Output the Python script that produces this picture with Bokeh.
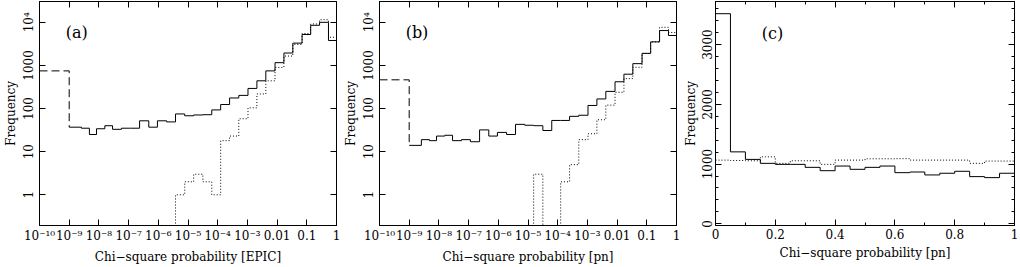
from bokeh.plotting import figure
from bokeh.layouts import row
from bokeh.models import (Range1d, FixedTicker, LogAxis, LinearAxis,
                          CustomJSTickFormatter, AllLabels, Label,
                          CustomLabelingPolicy)
from bokeh.embed import file_html
from bokeh.resources import INLINE

# ---------------- data ----------------
# bin edges (log10 of chi-square probability) used in panels (a) and (b)
log_edges = [-9.0, -8.59, -8.32, -8.08, -7.80, -7.54, -7.24, -6.94, -6.63, -6.32,
             -6.03, -5.72, -5.42, -5.11, -4.81, -4.50, -4.20, -3.90, -3.60, -3.29,
             -2.98, -2.68, -2.38, -2.07, -1.77, -1.47, -1.16, -0.87, -0.57, -0.27, 0.0]
low_edge = -10.0   # lower edge of the "p < 1e-9" bin (dashed)

# (a) EPIC
epic_all = [37, 35, 25, 34, 40, 33, 35, 35, 52, 37, 52, 49, 75, 68, 71, 72, 93, 124,
            176, 202, 293, 440, 748, 1160, 1940, 3290, 5210, 8530, 10000, 3790]
epic_sel = [0, 0, 0, 0, 0, 0, 0, 0, 0, 0, 0, 0, 1, 2, 3, 2, 1, 18, 23, 58, 104, 218,
            440, 900, 1650, 3070, 5500, 9150, 11500, 4500]
epic_low = 748

# (b) pn
pn_all = [14, 19, 18, 23, 24, 18, 19, 17, 32, 23, 28, 25, 43, 41, 40, 31, 53, 53,
          66, 70, 118, 167, 250, 418, 627, 1100, 1905, 3520, 6440, 4950]
pn_sel = [0, 0, 0, 0, 0, 0, 0, 0, 0, 0, 0, 0, 0, 0, 3, 0, 0, 2, 5, 19, 26, 55,
          120, 238, 495, 905, 1900, 3520, 7670, 5800]
pn_low = 464

# (c) pn, linear probability
lin_edges = [0.0, 0.05, 0.1, 0.15, 0.2, 0.25, 0.3, 0.35, 0.4, 0.45, 0.5,
             0.55, 0.6, 0.65, 0.7, 0.75, 0.8, 0.85, 0.9, 0.95, 1.0]
lin_all = [3516, 1204, 1078, 1012, 995, 995, 945, 889, 967, 912, 945, 967,
           856, 867, 818, 846, 879, 790, 773, 846]
lin_sel = [1066, 1060, 1055, 1121, 1012, 1055, 1055, 995, 1066, 1066, 1088, 1088,
           1090, 1066, 1066, 1066, 1066, 1012, 1050, 1050]

# ticks
log_ticks = [1e-10, 1e-9, 1e-8, 1e-7, 1e-6, 1e-5, 1e-4, 1e-3, 1e-2, 1e-1, 1.0]
log_tick_labels = ["10⁻¹⁰", "10⁻⁹", "10⁻⁸", "10⁻⁷", "10⁻⁶", "10⁻⁵", "10⁻⁴", "10⁻³",
                   "0.01", "0.1", "1"]
freq_ticks = [1, 10, 100, 1000, 10000]
freq_labels = ["1", "10", "100", "1000", "10⁴"]
lin_ticks = [0.0, 0.2, 0.4, 0.6, 0.8, 1.0]
lin_labels = ["0", "0.2", "0.4", "0.6", "0.8", "1"]
lin_minor = [0.1, 0.3, 0.5, 0.7, 0.9]
cnt_ticks = [0, 1000, 2000, 3000]
cnt_labels = ["0", "1000", "2000", "3000"]
cnt_minor = [200, 400, 600, 800, 1200, 1400, 1600, 1800, 2200, 2400, 2600, 2800,
             3200, 3400, 3600]

FONT = "DejaVu Serif"
TICK_PX = "12px"
LAB_PX = "12px"
H = 266


def formatter(vals, labs):
    return CustomJSTickFormatter(args=dict(vals=vals, labs=labs), code="""
        for (let i = 0; i < vals.length; i++) {
            const v = vals[i];
            if (Math.abs(v - tick) <= 1e-6 * Math.max(Math.abs(v), 1e-300)) return labs[i];
        }
        return '';
    """)


def hide_policy():
    return CustomLabelingPolicy(code="""
        try {
            for (let i = 0; i < indices.size; i++) { indices.unset(i) }
        } catch (e) {}
        return indices
    """)


def style_axis(ax, show, tick_standoff=3, label_standoff=4):
    ax.major_tick_in = 6
    ax.major_tick_out = 0
    ax.minor_tick_in = 3
    ax.minor_tick_out = 0
    ax.axis_line_color = "black"
    ax.major_tick_line_color = "black"
    ax.minor_tick_line_color = "black"
    ax.major_label_text_font = FONT
    ax.major_label_text_color = "black"
    ax.axis_label_text_font = FONT
    ax.axis_label_text_font_style = "normal"
    ax.axis_label_text_font_size = LAB_PX
    ax.axis_label_text_color = "black"
    if show:
        ax.major_label_policy = AllLabels()
        ax.major_label_text_font_size = TICK_PX
        ax.major_label_standoff = tick_standoff
        ax.axis_label_standoff = label_standoff
    else:
        ax.major_label_policy = hide_policy()
        ax.major_label_text_font_size = "0px"
        ax.major_label_standoff = 0


def step_xy(edges, vals):
    xs, ys = [], []
    for i, v in enumerate(vals):
        xs += [edges[i], edges[i + 1]]
        ys += [v, v]
    return xs, ys


def make_panel(kind, xlabel, tag, all_v, sel_v, low_v, width, left):
    common = dict(width=width, height=H, output_backend="svg", toolbar_location=None,
                  min_border_left=left, min_border_right=4, min_border_top=1,
                  min_border_bottom=36)
    if kind == "log":
        p = figure(x_axis_type="log", y_axis_type="log",
                   x_range=Range1d(1e-10, 1.0), y_range=Range1d(0.194, 30400), **common)
        xt = FixedTicker(ticks=log_ticks, minor_ticks=[])
        yt = FixedTicker(ticks=freq_ticks, minor_ticks=[])
        xf = formatter(log_ticks, log_tick_labels)
        yf = formatter(freq_ticks, freq_labels)
        AxisX, AxisY = LogAxis, LogAxis
        edges = [10 ** e for e in log_edges]
        lo = 10 ** low_edge
        floor = 1e-3
    else:
        p = figure(x_range=Range1d(0.0, 1.0), y_range=Range1d(-28, 3720), **common)
        xt = FixedTicker(ticks=lin_ticks, minor_ticks=lin_minor)
        yt = FixedTicker(ticks=cnt_ticks, minor_ticks=cnt_minor)
        xf = formatter(lin_ticks, lin_labels)
        yf = formatter(cnt_ticks, cnt_labels)
        AxisX, AxisY = LinearAxis, LinearAxis
        edges = lin_edges
        lo = None
        floor = None

    p.xgrid.visible = False
    p.ygrid.visible = False
    p.outline_line_color = "black"
    p.outline_line_alpha = 1.0
    p.background_fill_color = "white"
    p.border_fill_color = "white"

    p.xaxis.ticker = xt
    p.xaxis.formatter = xf
    p.yaxis.ticker = yt
    p.yaxis.formatter = yf
    p.xaxis.axis_label = xlabel
    p.yaxis.axis_label = "Frequency"
    for ax in p.xaxis:
        style_axis(ax, True, tick_standoff=3, label_standoff=4)
    for ax in p.yaxis:
        style_axis(ax, True, tick_standoff=3, label_standoff=2)
        ax.major_label_orientation = "vertical"

    top = AxisX(ticker=xt, formatter=xf)
    style_axis(top, False)
    p.add_layout(top, "above")
    right = AxisY(ticker=yt, formatter=yf)
    style_axis(right, False)
    p.add_layout(right, "right")

    # solid: all sources
    xs, ys = step_xy(edges, all_v)
    if lo is not None:
        # dashed bin below 1e-9, joined down to the first solid bin
        p.line([lo, edges[0], edges[0]], [low_v, low_v, all_v[0]],
               line_color="black", line_width=1, line_dash="8 4")
    p.line(xs, ys, line_color="black", line_width=1)

    # dotted: selected sources (empty bins drop below the frame)
    sel_plot = [v if v > 0 else floor for v in sel_v] if floor else list(sel_v)
    xs2, ys2 = step_xy(edges, sel_plot)
    p.line(xs2, ys2, line_color="black", line_width=1, line_dash="1 2")

    if kind == "log":
        lab = Label(x=10 ** -9.12, y=10 ** 3.77, text=tag)
    else:
        lab = Label(x=0.155, y=3190, text=tag)
    lab.text_font = FONT
    lab.text_font_size = "16px"
    lab.text_baseline = "middle"
    lab.text_align = "left"
    lab.text_color = "black"
    p.add_layout(lab)
    return p


pa = make_panel("log", "Chi−square probability [EPIC]", "(a)", epic_all, epic_sel, epic_low, 340, 34)
pb = make_panel("log", "Chi−square probability [pn]", "(b)", pn_all, pn_sel, pn_low, 340, 35)
pc = make_panel("lin", "Chi−square probability [pn]", "(c)", lin_all, lin_sel, None, 338, 34)

layout = row(pa, pb, pc, spacing=0)
open("out.html", "w").write(file_html(layout, INLINE))
